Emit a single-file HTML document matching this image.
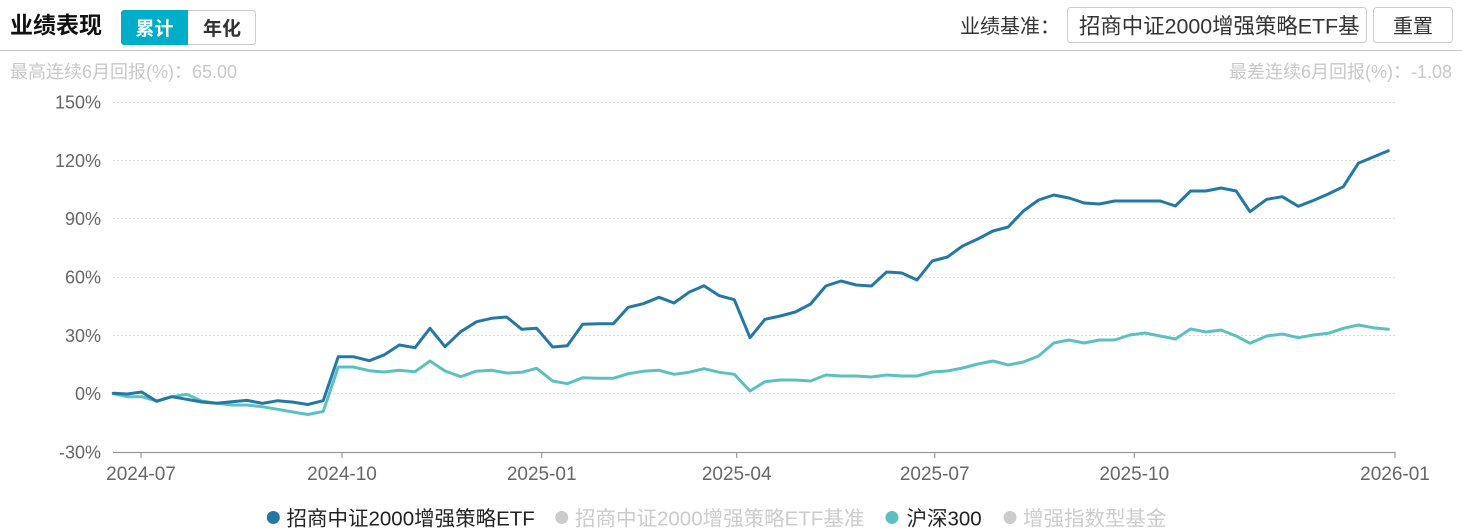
<!DOCTYPE html>
<html>
<head>
<meta charset="utf-8">
<style>
html,body{margin:0;padding:0;background:#fff;}
body{width:1462px;height:532px;overflow:hidden;}
svg{display:block;}
text{font-family:"Liberation Sans","Noto Sans CJK SC",sans-serif;}
</style>
</head>
<body>
<svg width="1462" height="532" viewBox="0 0 1462 532" xmlns="http://www.w3.org/2000/svg">
  <defs>
    <clipPath id="inclip"><rect x="1069" y="8" width="290" height="33"/></clipPath>
  </defs>
  <!-- Header -->
  <text x="10" y="33" font-size="23" font-weight="bold" fill="#111">业绩表现</text>
  <rect x="121.5" y="10.5" width="134" height="34" rx="3" ry="3" fill="#fff" stroke="#ccc"/>
  <path d="M124,10 H188 V45 H124 A3,3 0 0 1 121,42 V13 A3,3 0 0 1 124,10 Z" fill="#01aec9"/>
  <text x="154.5" y="35" font-size="19" font-weight="bold" fill="#fff" text-anchor="middle">累计</text>
  <text x="222" y="35" font-size="19" font-weight="bold" fill="#333" text-anchor="middle">年化</text>

  <text x="1060" y="33" font-size="20" fill="#333" text-anchor="end">业绩基准：</text>
  <rect x="1067.5" y="7.5" width="299" height="35" rx="3" ry="3" fill="#fff" stroke="#ccc"/>
  <text x="1079" y="33.5" font-size="21.4" fill="#333" clip-path="url(#inclip)">招商中证2000增强策略ETF基</text>
  <rect x="1373.5" y="7.5" width="79" height="35" rx="3" ry="3" fill="#fff" stroke="#ccc"/>
  <text x="1413" y="33" font-size="20" fill="#333" text-anchor="middle">重置</text>

  <line x1="0" y1="50.5" x2="1462" y2="50.5" stroke="#c8c8c8" stroke-width="1"/>

  <text x="10" y="78" font-size="18" fill="#c8c8c8">最高连续6月回报(%)：65.00</text>
  <text x="1452" y="78" font-size="18" fill="#c8c8c8" text-anchor="end">最差连续6月回报(%)：-1.08</text>

  <!-- Grid -->
  <g stroke="#dcdcdc" stroke-width="1" stroke-dasharray="2,2">
    <line x1="113" y1="102.5" x2="1395" y2="102.5"/>
    <line x1="113" y1="160.5" x2="1395" y2="160.5"/>
    <line x1="113" y1="218.5" x2="1395" y2="218.5"/>
    <line x1="113" y1="277.5" x2="1395" y2="277.5"/>
    <line x1="113" y1="335.5" x2="1395" y2="335.5"/>
    <line x1="113" y1="393.5" x2="1395" y2="393.5"/>
  </g>
  <!-- Axis -->
  <line x1="113" y1="452.5" x2="1395.5" y2="452.5" stroke="#999" stroke-width="1.2"/>
  <g stroke="#999" stroke-width="1.2">
    <line x1="141" y1="452" x2="141" y2="458"/>
    <line x1="342" y1="452" x2="342" y2="458"/>
    <line x1="541.7" y1="452" x2="541.7" y2="458"/>
    <line x1="736.7" y1="452" x2="736.7" y2="458"/>
    <line x1="934.7" y1="452" x2="934.7" y2="458"/>
    <line x1="1134.3" y1="452" x2="1134.3" y2="458"/>
    <line x1="1395" y1="452" x2="1395" y2="458"/>
  </g>

  <!-- Y labels -->
  <g font-size="18" fill="#666" text-anchor="end">
    <text x="101" y="108.5">150%</text>
    <text x="101" y="166.8">120%</text>
    <text x="101" y="225.2">90%</text>
    <text x="101" y="283.6">60%</text>
    <text x="101" y="342">30%</text>
    <text x="101" y="400.2">0%</text>
    <text x="101" y="458.6">-30%</text>
  </g>
  <!-- X labels -->
  <g font-size="19" fill="#666" text-anchor="middle">
    <text x="141" y="480">2024-07</text>
    <text x="342" y="480">2024-10</text>
    <text x="541.7" y="480">2025-01</text>
    <text x="736.7" y="480">2025-04</text>
    <text x="934.7" y="480">2025-07</text>
    <text x="1134.3" y="480">2025-10</text>
    <text x="1395" y="480">2026-01</text>
  </g>

  <!-- Teal: 沪深300 -->
  <polyline fill="none" stroke="#5cc0c1" stroke-width="3" stroke-linejoin="round" stroke-linecap="round" points="
113.3,393.7 127.3,396.7 141.7,396.7 156.7,401 171.7,396.7 186.7,394.3 201.7,401 216.7,403.3 231.7,405 247,405 262.5,406.8 277.8,409.3 292.8,412 307.8,414.5 323.2,411.5
338.3,367 353.3,367 369.3,370.7 384,372 399.3,370.3 415,371.7 430,361 445,371 460.7,376.7 475.7,371.3 491.7,370.3 506.7,373 521.7,372.3 536.7,368.3 552.7,381 567.3,383.7 582.7,377.7 598.3,378.3 613.3,378.3 628.3,373.7 643.3,371.3 659,370.3 674,374.3 689,372.3 704,368.7 719.3,372.3 734.3,374.3 750,391 765,381.7
780.2,380 795.4,380 810.6,381 825.8,375 841,376 856.2,376 871.4,377 886.6,375 901.8,376 917,376 932.2,372 947.4,371 962.6,368 977.8,364 993,361 1008.2,365 1023.4,362 1038.6,356 1053.8,343 1069,340 1084.2,343 1099.4,340 1114.6,340 1129.8,335 1145,333 1160.2,336 1175.4,339 1190.6,329 1205.8,332 1221,330 1236.2,336
1250,343.3 1266.7,336 1282.3,334 1298.3,337.7 1313.3,335 1328.3,333.3 1343.3,328.3 1358.3,325 1373,327.7 1388.3,329.3"/>

  <!-- Blue: ETF -->
  <polyline fill="none" stroke="#2378a6" stroke-width="3" stroke-linejoin="round" stroke-linecap="round" points="
113.3,393.3 127,394 141.7,392 156.7,401.3 171.7,396.7 186.7,399.3 201.7,402 216.7,403.3 231.7,401.7 247,400.4 262.5,403.4 277.8,400.7 292.8,402.1 307.8,404.5 323.2,400.7
338.3,356.7 353.3,356.7 369.3,360.7 384,355 399.3,345 415,347.7 430,328.3 445,346.7 460.7,331.7 476.7,321.7 491.7,318.3 506.7,317 521.7,329.3 536.7,328.3 552.7,347 567.3,345.7 582.7,324.3 598.3,323.7 613.3,323.7 628.3,307.3 643.3,303.7 659,297.3 674,303 689,292.3 704,285.7 719.3,295.7 734.3,299.7 750,337.7 765,319.3
780.2,316 795.4,312 810.6,304 825.8,286 841,281 856.2,285 871.4,286 886.6,272 901.8,273 917,280 932.2,261 947.4,257 962.6,246 977.8,239 993,231 1008.2,227 1023.4,211 1038.6,200 1053.8,195 1069,198 1084.2,203 1099.4,204 1114.6,201 1129.8,201 1145,201 1160.2,201 1175.4,206 1190.6,191 1205.8,191 1221,188 1236.2,191
1250,211.7 1266.7,199.3 1282.3,196.7 1298.3,206.3 1313.3,200.5 1328.3,194 1343.3,186.7 1358.3,163.3 1373.3,157 1388.3,150.7"/>

  <!-- Legend -->
  <circle cx="273.3" cy="517.5" r="6.5" fill="#2378a6"/>
  <text x="286.5" y="525.5" font-size="20.5" fill="#222">招商中证2000增强策略ETF</text>
  <circle cx="561.7" cy="517.5" r="6.5" fill="#ccc"/>
  <text x="575" y="525.5" font-size="20.5" fill="#ccc">招商中证2000增强策略ETF基准</text>
  <circle cx="892" cy="517.5" r="6.5" fill="#5cc0c1"/>
  <text x="906.5" y="525.5" font-size="20.5" fill="#222">沪深300</text>
  <circle cx="1010" cy="517.5" r="6.5" fill="#ccc"/>
  <text x="1023" y="525.5" font-size="20.5" fill="#ccc">增强指数型基金</text>
</svg>
</body>
</html>
